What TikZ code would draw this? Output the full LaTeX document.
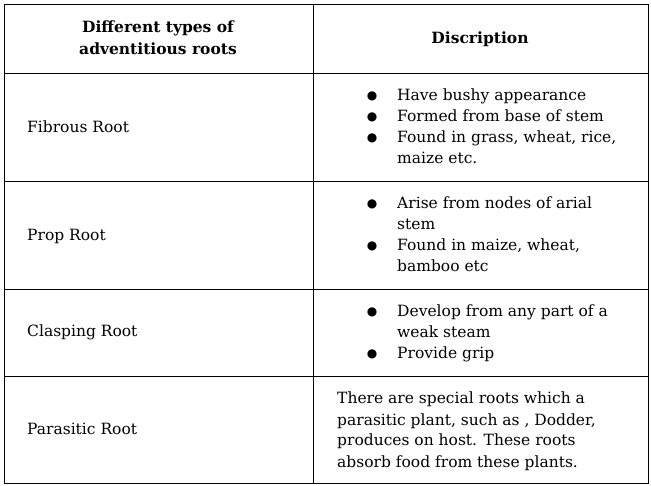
\documentclass[tikz,border=0pt]{standalone}
\usepackage{fontspec}
\setmainfont{DejaVu Serif}
\begin{document}
\begin{tikzpicture}[x=1pt,y=-1pt,
  txt/.style={anchor=base west,inner sep=0pt,font=\fontsize{15.5}{21}\selectfont},
  hd/.style={anchor=center,inner sep=0pt,align=center,font=\fontsize{15.5}{22}\selectfont\bfseries},
  bul/.style={anchor=center,inner sep=0pt,font=\fontsize{12}{13}\selectfont},
  grid/.style={draw=black,line width=0.8pt}]
\useasboundingbox (0,0) rectangle (651,486);
\draw[grid] (4,4) rectangle (648,483);
\foreach \y in {73,181,289,376} \draw[grid] (4,\y) -- (648,\y);
\draw[grid] (313,4) -- (313,483);
\node[hd] (h1) at (158,38) {Different types of\\adventitious roots};
\node[hd] (h2) at (480,39) {Discription};
\node[txt] (r1) at (27,133) {Fibrous Root};
\node[txt] (r2) at (27,241) {Prop Root};
\node[txt] (r3) at (27,337) {Clasping Root};
\node[txt] (r4) at (27,435) {Parasitic Root};
% row 1
\node[bul] (b11) at (372,96) {●};
\node[txt] (t11) at (397,101) {Have bushy appearance};
\node[bul] (b12) at (372,117) {●};
\node[txt] (t12) at (397,122) {Formed from base of stem};
\node[bul] (b13) at (372,138) {●};
\node[txt] (t13) at (397,143) {Found in grass, wheat, rice,};
\node[txt] (t14) at (397,164) {maize etc.};
% row 2
\node[bul] (b21) at (372,204) {●};
\node[txt] (t21) at (397,209) {Arise from nodes of arial};
\node[txt] (t22) at (397,230) {stem};
\node[bul] (b23) at (372,246) {●};
\node[txt] (t23) at (397,251) {Found in maize, wheat,};
\node[txt] (t24) at (397,272) {bamboo etc};
% row 3
\node[bul] (b31) at (372,312) {●};
\node[txt] (t31) at (397,317) {Develop from any part of a};
\node[txt] (t32) at (397,338) {weak steam};
\node[bul] (b33) at (372,354) {●};
\node[txt] (t33) at (397,359) {Provide grip};
% row 4
\node[txt] (t41) at (337,403) {There are special roots which a};
\node[txt] (t42) at (337,425) {parasitic plant, such as , Dodder,};
\node[txt] (t43) at (337,446) {produces on host. These roots};
\node[txt] (t44) at (337,467) {absorb food from these plants.};
\end{tikzpicture}
\end{document}
